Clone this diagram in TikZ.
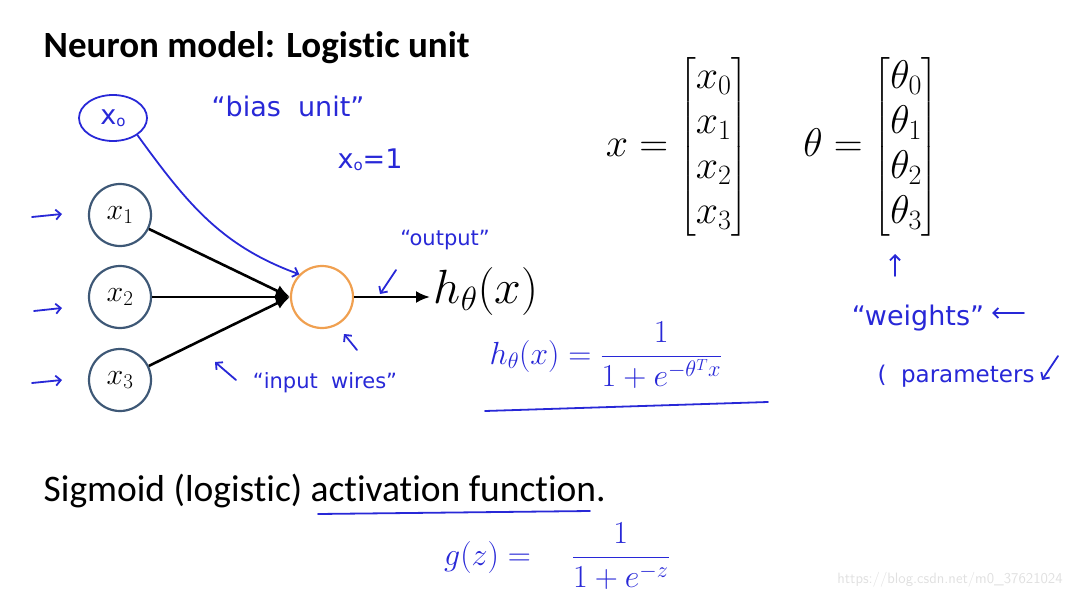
\RequirePackage{fix-cm}
\documentclass[tikz,border=0pt]{standalone}
\usepackage{amsmath}
\usepackage{fontspec}
\newfontfamily\slidefont[Ligatures={NoCommon}]{Carlito}
\newfontfamily\handfont{DejaVu Sans}
\usetikzlibrary{arrows.meta,positioning,calc,shapes.geometric}
\definecolor{penblue}{RGB}{40,40,215}
\definecolor{unitgray}{RGB}{62,88,118}
\definecolor{unitorange}{RGB}{240,160,80}
\tikzset{every picture/.style={line width=0.75pt}}
\tikzset{
  unit/.style={circle,draw=unitgray,line width=2.2pt,minimum size=62pt,inner sep=0pt,font=\fontsize{30}{32}\selectfont},
  wire/.style={line width=2.6pt,-{Latex[length=14pt,width=12pt]}},
  pen/.style={penblue,line width=1.8pt,line cap=round,-{Straight Barb[length=5pt,width=10pt]}},
  penline/.style={penblue,line width=1.8pt,line cap=round},
  note/.style={text=penblue,font=\handfont\fontsize{27}{30}\selectfont},
  smallnote/.style={text=penblue,font=\handfont\fontsize{21}{23}\selectfont},
  vector/.style={font=\fontsize{40}{45}\selectfont},
}
\newcommand{\handsub}[1]{{\fontsize{15}{15}\selectfont\raisebox{-2pt}{#1}}}

\begin{document}
\begin{tikzpicture}[x=1pt,y=-1pt]
    \useasboundingbox (0,0) rectangle (1083,596);
    \node[anchor=base west,font=\slidefont\bfseries\fontsize{37}{40}\selectfont] (title) at (40,58) {Neuron model: Logistic unit};
    % units
    \node[ellipse,draw=penblue,line width=1.8pt,minimum width=68pt,minimum height=46pt,note] (x0) at (113,118) {x\handsub{o}};
    \node[unit] (x1) at (120,215) {$x_1$};
    \node[unit] (x2) at (120,297) {$x_2$};
    \node[unit] (x3) at (120,380) {$x_3$};
    \node[unit,draw=unitorange] (out) at (322,297) {};
    \node[anchor=west,font=\fontsize{48}{52}\selectfont] (h) at (430,291) {$h_\theta(x)$};
    \foreach \i in {1,2,3}
        \draw[wire] (x\i) -- (out.west);
    \draw[wire] (out) -- (out -| h.west);
    \draw[pen] (x0.-35) to[out=-54,in=160] (out.north west);
    % input arrows
    \coordinate (a1) at (32,217);
    \coordinate (a2) at (34,311);
    \coordinate (a3) at (32,383);
    \draw[pen] (a1) -- ++(30,-3);
    \draw[pen] (a2) -- ++(28,-3);
    \draw[pen] (a3) -- ++(30,-3);
    % notes
    \node[note] (bias) at (288,106) {“bias\ \ unit”};
    \node[note] (one) at (370,160) {x\handsub{o}=1};
    \node[smallnote] (outlbl) at (445,240) {“output”};
    \coordinate (outtip) at (380,294);
    \draw[pen] (396,270) -- (outtip);
    \coordinate (celltip) at (344,334);
    \draw[pen] (357,350) -- (celltip);
    \node[smallnote] (wires) at (325,383) {“input\ \ wires”};
    \coordinate (wiretip) at (215,362);
    \draw[pen] (236,380) -- (wiretip);
    \node[text=penblue,font=\fontsize{32}{36}\selectfont] (hform) at (606,355) {$h_\theta(x) = \dfrac{1}{1+e^{-\theta^T x}}$};
    \draw[penline] (485,411) -- (768,402);
    % vectors
    \node[vector] (xvec) at (677,147) {$x = \begin{bmatrix}x_0\\x_1\\x_2\\x_3\end{bmatrix}$};
    \node[vector] (tvec) at (871,147) {$\theta = \begin{bmatrix}\theta_0\\\theta_1\\\theta_2\\\theta_3\end{bmatrix}$};
    \node[note] (weights) at (918,318) {“weights”};
    \node[note,font=\handfont\fontsize{23}{26}\selectfont] (params) at (956,376) {(\ \ parameters};
    \coordinate (wtip) at (895,254);
    \draw[pen] (895,276) -- (wtip);
    \coordinate (ptip) at (992,313);
    \draw[pen] (1024,313) -- (ptip);
    \coordinate (qtip) at (1042,380);
    \draw[pen] (1058,356) -- (qtip);
    % sigmoid
    \node[anchor=base west,font=\slidefont\fontsize{37.5}{40}\selectfont] (sigmoid) at (40,501) {Sigmoid (logistic) activation function.};
    \draw[penline] (318,514) -- (590,511);
    \node[text=penblue,font=\fontsize{32}{36}\selectfont] (gform) at (557,556) {$g(z) =\quad \dfrac{1}{1+e^{-z}}$};
    \node[text=black!12,font=\fontsize{15}{17}\selectfont\sffamily] (mark) at (950,580) {https://blog.csdn.net/m0\_37621024};
\end{tikzpicture}
\end{document}
